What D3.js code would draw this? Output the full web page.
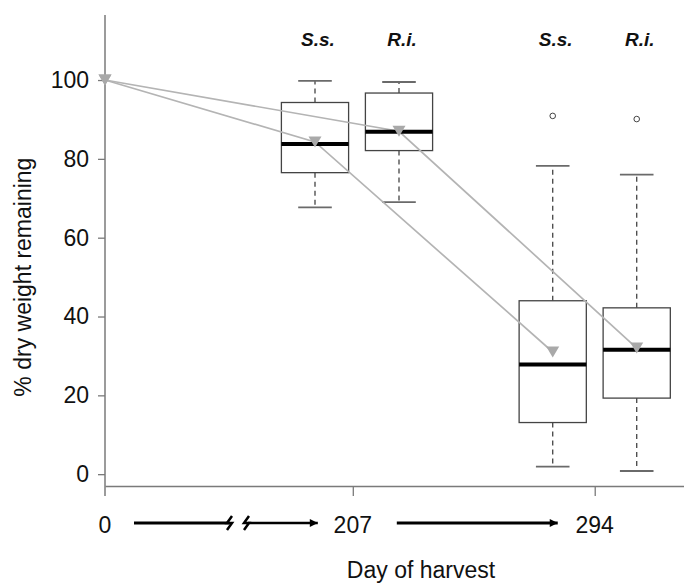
<!DOCTYPE html>
<html>
<head>
<meta charset="utf-8">
<script src="https://cdn.jsdelivr.net/npm/d3@7"></script>
<style>
  html, body { margin: 0; padding: 0; background: #fff; }
  svg { display: block; font-family: "Liberation Sans", Arial, sans-serif; }
</style>
</head>
<body>
<svg id="chart" width="684" height="584"></svg>
<script>
// ---- data ----
const dayLabels = ["0", "207", "294"];
const dayPositions = [0, 2.95, 5.83];
const speciesLabels = ["S.s.", "R.i."];
const boxSpecies = ["S.s.", "R.i.", "S.s.", "R.i."];
const boxDays = ["207", "207", "294", "294"];
const boxPositions = [2.5, 3.5, 5.33, 6.33];
const lowerWhisker = [67.7, 69.0, 1.9, 0.8];
const q1 = [76.5, 82.1, 13.1, 19.3];
const medianVals = [83.8, 86.9, 27.8, 31.6];
const q3 = [94.3, 96.7, 44.0, 42.2];
const upperWhisker = [99.8, 99.5, 78.2, 76.0];
const outliers = [[], [], [90.9], [90.1]];
const meanPositionsSs = [0, 2.5, 5.33];
const meanSs = [100, 84.3, 31.0];
const meanPositionsRi = [0, 3.5, 6.33];
const meanRi = [100, 87.0, 32.0];
const yTicks = [0, 20, 40, 60, 80, 100];

// ---- layout ----
const svg = d3.select("#chart");
const x = d3.scaleLinear().domain([0, 6.9]).range([105, 684.6]);
const y = d3.scaleLinear().domain([-3, 116.5]).range([486, 15]);
const unit = x(1) - x(0);
const boxW = 0.8 * unit;
const capW = 0.4 * unit;

// y axis
const yAxis = d3.axisLeft(y).tickValues(yTicks).tickSize(7).tickPadding(9).tickSizeOuter(0);
const gy = svg.append("g").attr("transform", `translate(${x(0)},0)`).call(yAxis);
gy.select(".domain").remove();
gy.selectAll(".tick line").attr("stroke", "#7a7a7a").attr("stroke-width", 1.3);
gy.selectAll(".tick text").attr("font-size", 23).attr("fill", "#111")
  .attr("font-family", "'Liberation Sans', Arial, sans-serif");
svg.append("line")
  .attr("x1", x(0)).attr("x2", x(0))
  .attr("y1", y(116.5)).attr("y2", y(-3) + 10)
  .attr("stroke", "#7a7a7a").attr("stroke-width", 1.5);

// x axis
const xAxis = d3.axisBottom(x).tickValues(dayPositions.slice(1)).tickSize(10).tickFormat("").tickSizeOuter(0);
const gx = svg.append("g").attr("transform", `translate(0,${y(-3)})`).call(xAxis);
gx.select(".domain").attr("stroke", "#7a7a7a").attr("stroke-width", 1.5);
gx.selectAll(".tick line").attr("stroke", "#7a7a7a").attr("stroke-width", 1.3);

// day labels
svg.selectAll("text.day").data(dayLabels).enter().append("text")
  .attr("class", "day")
  .attr("x", (d, i) => x(dayPositions[i]))
  .attr("y", 533)
  .attr("text-anchor", "middle")
  .attr("font-size", 23)
  .attr("fill", "#111")
  .text(d => d);

// arrows between day labels
const arrowY = 523;
const arrowStarts = [x(dayPositions[0]) + 29, x(dayPositions[1]) + 44];
const arrowEnds = [x(dayPositions[1]) - 35, x(dayPositions[2]) - 37];
svg.append("defs").append("marker")
  .attr("id", "ah").attr("viewBox", "0 0 10 10")
  .attr("refX", 10).attr("refY", 5)
  .attr("markerWidth", 10).attr("markerHeight", 8)
  .attr("markerUnits", "userSpaceOnUse")
  .attr("orient", "auto")
  .append("path").attr("d", "M0,0 L10,5 L0,10 Z").attr("fill", "#000");

// first arrow with axis break
const brk1 = arrowStarts[0] + 95;
const brk2 = brk1 + 19;
svg.append("line").attr("x1", arrowStarts[0]).attr("x2", brk1)
  .attr("y1", arrowY).attr("y2", arrowY).attr("stroke", "#000").attr("stroke-width", 3);
function breakGlyph(cx) {
  return `M${cx + 3},${arrowY - 7} L${cx - 2},${arrowY} L${cx + 3},${arrowY} L${cx - 2},${arrowY + 7}`;
}
svg.append("path").attr("d", breakGlyph(brk1)).attr("fill", "none").attr("stroke", "#000").attr("stroke-width", 2.5);
svg.append("path").attr("d", breakGlyph(brk2 - 2)).attr("fill", "none").attr("stroke", "#000").attr("stroke-width", 2.5);
svg.append("line").attr("x1", brk2).attr("x2", arrowEnds[0])
  .attr("y1", arrowY).attr("y2", arrowY).attr("stroke", "#000").attr("stroke-width", 2.5)
  .attr("marker-end", "url(#ah)");
svg.append("line").attr("x1", arrowStarts[1]).attr("x2", arrowEnds[1])
  .attr("y1", arrowY).attr("y2", arrowY).attr("stroke", "#000").attr("stroke-width", 2.8)
  .attr("marker-end", "url(#ah)");

// x title
svg.append("text").attr("x", 421).attr("y", 578).attr("text-anchor", "middle")
  .attr("font-size", 23).attr("fill", "#111").text("Day of harvest");
// y title
svg.append("text").attr("transform", `translate(31,${y(50)}) rotate(-90)`)
  .attr("text-anchor", "middle").attr("font-size", 23).attr("fill", "#111")
  .text("% dry weight remaining");

// species labels
svg.selectAll("text.sp").data(boxSpecies).enter().append("text")
  .attr("class", "sp")
  .attr("x", (d, i) => x(boxPositions[i]) + 3)
  .attr("y", 46)
  .attr("text-anchor", "middle")
  .attr("font-size", 19)
  .attr("font-weight", "bold")
  .attr("font-style", "italic")
  .attr("fill", "#111")
  .text(d => d);

// boxplots
const boxes = svg.append("g");
boxPositions.forEach((p, i) => {
  const cx = x(p);
  // dashed whiskers
  boxes.append("line").attr("x1", cx).attr("x2", cx)
    .attr("y1", y(q3[i])).attr("y2", y(upperWhisker[i]))
    .attr("stroke", "#444").attr("stroke-width", 1.3).attr("stroke-dasharray", "5,4");
  boxes.append("line").attr("x1", cx).attr("x2", cx)
    .attr("y1", y(q1[i])).attr("y2", y(lowerWhisker[i]))
    .attr("stroke", "#444").attr("stroke-width", 1.3).attr("stroke-dasharray", "5,4");
  // caps
  [upperWhisker[i], lowerWhisker[i]].forEach(v => {
    boxes.append("line").attr("x1", cx - capW / 2).attr("x2", cx + capW / 2)
      .attr("y1", y(v)).attr("y2", y(v))
      .attr("stroke", "#6a6a6a").attr("stroke-width", 1.8);
  });
  // box
  boxes.append("rect")
    .attr("x", cx - boxW / 2).attr("width", boxW)
    .attr("y", y(q3[i])).attr("height", y(q1[i]) - y(q3[i]))
    .attr("fill", "#fff").attr("stroke", "#444").attr("stroke-width", 1.3);
  // outliers
  outliers[i].forEach(v => {
    boxes.append("circle").attr("cx", cx).attr("cy", y(v)).attr("r", 2.8)
      .attr("fill", "none").attr("stroke", "#444").attr("stroke-width", 1);
  });
});

// mean lines
const line = d3.line().x(d => x(d[0])).y(d => y(d[1]));
const ssPts = meanPositionsSs.map((p, i) => [p, meanSs[i]]);
const riPts = meanPositionsRi.map((p, i) => [p, meanRi[i]]);
[ssPts, riPts].forEach(pts => {
  svg.append("path").attr("d", line(pts)).attr("fill", "none")
    .attr("stroke", "#b4b4b4").attr("stroke-width", 1.7);
});

// medians
boxPositions.forEach((p, i) => {
  const cx = x(p);
  svg.append("line").attr("x1", cx - boxW / 2).attr("x2", cx + boxW / 2)
    .attr("y1", y(medianVals[i])).attr("y2", y(medianVals[i]))
    .attr("stroke", "#000").attr("stroke-width", 4);
});

// mean triangles
function tri(cx, cy) {
  return `M${cx - 6.5},${cy - 5.5} L${cx + 6.5},${cy - 5.5} L${cx},${cy + 5.5} Z`;
}
[ssPts, riPts].forEach(pts => {
  svg.selectAll(null).data(pts).enter().append("path")
    .attr("d", d => tri(x(d[0]), y(d[1])))
    .attr("fill", "#a9a9a9");
});
</script>
</body>
</html>
